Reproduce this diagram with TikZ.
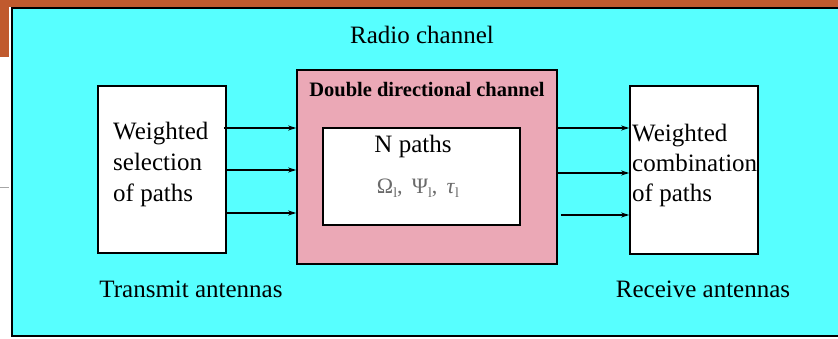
\documentclass[tikz,border=0pt]{standalone}
\usepackage{fontspec}
\setmainfont{Liberation Serif}
\usetikzlibrary{arrows.meta}
\definecolor{cyanbg}{HTML}{57FFFF}
\definecolor{pinkbg}{HTML}{EBA8B6}
\definecolor{slideorange}{HTML}{C05A2E}
\definecolor{greytext}{HTML}{6A6A6A}
\newcommand{\subl}[1]{#1\raisebox{-4pt}{\fontsize{14}{14}\selectfont l}}
\begin{document}
\begin{tikzpicture}[x=1pt,y=-1pt,
  box/.style={draw=black,line width=1.6pt,fill=white,inner sep=0pt},
  lbl/.style={font=\fontsize{25}{30}\selectfont,inner sep=0pt},
  arr/.style={-{Stealth[length=8pt,width=5pt]},line width=1.3pt}]
\useasboundingbox (0,0) rectangle (838,339);
\fill[white] (0,0) rectangle (838,339);
% slide decorations
\fill[slideorange] (0,0) rectangle (838,7);
\fill[slideorange] (0,0) rectangle (9,57);
\draw[gray!70,line width=1pt] (0,188) -- (9,188);
% radio channel
\begin{scope}
\clip (0,0) rectangle (838,339);
\draw[fill=cyanbg,line width=2pt] (12,8) rectangle (860,336);
\end{scope}
\node[lbl,anchor=base] (radio) at (422,44) {Radio channel};
% boxes
\node[box,minimum width=128pt,minimum height=167pt] (lbox) at (162,169.5) {};
\node[box,fill=pinkbg,minimum width=260pt,minimum height=194pt] (pink) at (427,167) {};
\node[box,minimum width=197pt,minimum height=97pt] (inner) at (421.5,176.5) {};
\node[box,minimum width=128pt,minimum height=168pt] (rbox) at (694,170) {};
% texts
\node[font=\bfseries\fontsize{20.5}{24}\selectfont,inner sep=0pt,anchor=base] (ddc) at (427,97) {Double directional channel};
\node[lbl,anchor=base] (np) at (413,153) {N paths};
\node[inner sep=0pt,text=greytext,font=\fontsize{22}{24}\selectfont,anchor=base] (params) at (418,194) {\subl{Ω},\, \subl{Ψ},\, \subl{\textit{τ}}};
\node[lbl,anchor=base west] (l1) at (113,140) {Weighted};
\node[lbl,anchor=base west] (l2) at (113,171) {selection};
\node[lbl,anchor=base west] (l3) at (113,202) {of paths};
\node[lbl,anchor=base west] (r1) at (632,142) {Weighted};
\node[lbl,anchor=base west] (r2) at (632,172) {combination};
\node[lbl,anchor=base west] (r3) at (632,202) {of paths};
\node[lbl,anchor=base] (tx) at (191,297) {Transmit antennas};
\node[lbl,anchor=base] (rx) at (703,297) {Receive antennas};
% arrows
\draw[arr] ([xshift=-3pt]lbox.east |- 0,128) -- (pink.west |- 0,128);
\draw[arr] (lbox.east |- 0,170) -- (pink.west |- 0,170);
\draw[arr] (lbox.east |- 0,213) -- (pink.west |- 0,213);
\draw[arr] (pink.east |- 0,128) -- (rbox.west |- 0,128);
\draw[arr] (pink.east |- 0,173) -- (rbox.west |- 0,173);
\draw[arr] ([xshift=3pt]pink.east |- 0,215) -- (rbox.west |- 0,215);
\end{tikzpicture}
\end{document}
